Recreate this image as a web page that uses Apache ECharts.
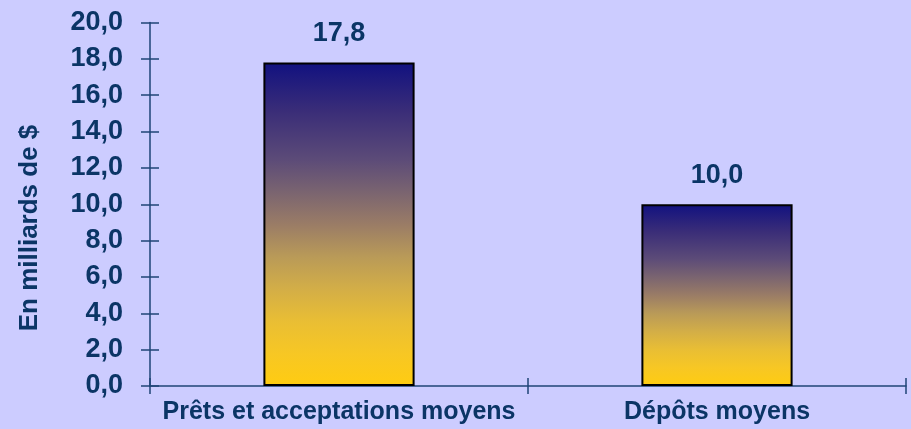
<!DOCTYPE html>
<html>
<head>
<meta charset="utf-8">
<script src="https://cdn.jsdelivr.net/npm/echarts@6/dist/echarts.min.js"></script>
<style>
  html, body { margin: 0; padding: 0; background: #ccccff; }
  #chart { width: 911px; height: 429px; }
</style>
</head>
<body>
<div id="chart"></div>
<script>
// Average balances, in billions of dollars
const categories = ['Prêts et acceptations moyens', 'Dépôts moyens'];
const values = [17.8, 10.0];
const yAxisTitle = 'En milliards de $';

const textColor = '#0b3566';
const axisColor = '#1f4477';
const font = 'Arial, "Liberation Sans", sans-serif';

const fmt = v => v.toFixed(1).replace('.', ',');

// Navy-to-gold fill used by every bar
const barFill = new echarts.graphic.LinearGradient(0, 0, 0, 1, [
  { offset: 0.00, color: '#111180' },
  { offset: 0.15, color: '#3a2d78' },
  { offset: 0.30, color: '#5c4b78' },
  { offset: 0.40, color: '#7a6470' },
  { offset: 0.50, color: '#9a7c66' },
  { offset: 0.60, color: '#b99a58' },
  { offset: 0.70, color: '#d3ae47' },
  { offset: 0.80, color: '#e9be34' },
  { offset: 0.90, color: '#f7c724' },
  { offset: 1.00, color: '#ffcc11' }
]);

const chart = echarts.init(document.getElementById('chart'), null, { renderer: 'canvas' });

const yBase = { type: 'value', min: 0, max: 20, interval: 2, splitLine: { show: false } };
const xBase = { type: 'category', data: categories, boundaryGap: true };
const tickStyle = { color: axisColor, width: 1.5 };

chart.setOption({
  backgroundColor: '#ccccff',
  animation: false,
  grid: { left: 150, right: 5, top: 22.5, bottom: 43, containLabel: false },
  xAxis: [
    Object.assign({}, xBase, {
      axisLine: { show: true, lineStyle: { color: axisColor, width: 1.5 } },
      axisTick: { show: true, interval: 0, length: 8, lineStyle: tickStyle },
      axisLabel: {
        interval: 0,
        color: textColor, fontFamily: font, fontWeight: 'bold', fontSize: 25, margin: 14
      }
    }),
    // inward half of the crossing ticks
    Object.assign({}, xBase, {
      position: 'bottom',
      axisLine: { show: false },
      axisTick: { show: true, interval: 0, inside: true, length: 8, lineStyle: tickStyle },
      axisLabel: { show: false }
    })
  ],
  yAxis: [
    Object.assign({}, yBase, {
      axisLine: { show: true, lineStyle: { color: axisColor, width: 1.5 } },
      axisTick: { show: true, length: 9, lineStyle: tickStyle },
      axisLabel: {
        color: textColor, fontFamily: font, fontWeight: 'bold', fontSize: 27, margin: 27,
        formatter: v => fmt(v)
      }
    }),
    // inward half of the crossing ticks
    Object.assign({}, yBase, {
      position: 'left',
      axisLine: { show: false },
      axisTick: { show: true, inside: true, length: 9, lineStyle: tickStyle },
      axisLabel: { show: false }
    })
  ],
  graphic: [{
    type: 'text',
    x: 30,
    y: 228,
    rotation: Math.PI / 2,
    style: {
      text: yAxisTitle,
      fill: textColor,
      font: 'bold 26px ' + font,
      align: 'center',
      verticalAlign: 'middle'
    }
  }],
  series: [{
    type: 'bar',
    xAxisIndex: 0,
    yAxisIndex: 0,
    data: values,
    barWidth: '40%',
    itemStyle: { color: barFill, borderColor: '#000000', borderWidth: 2 },
    label: {
      show: true,
      position: 'top',
      distance: 15,
      color: textColor,
      fontFamily: font,
      fontWeight: 'bold',
      fontSize: 27,
      formatter: p => fmt(p.value)
    }
  }]
});
</script>
</body>
</html>
